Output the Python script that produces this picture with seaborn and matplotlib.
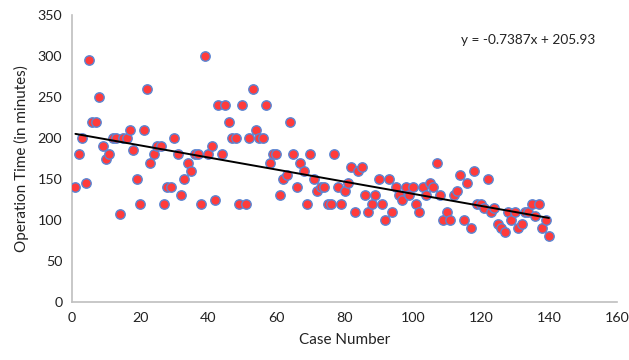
import numpy as np
import pandas as pd
import matplotlib
matplotlib.use("Agg")
import matplotlib.pyplot as plt
import seaborn as sns

case_number = list(range(1, 141))
operation_time = [
    140, 180, 200, 145, 295, 220, 220, 250, 190, 175,
    180, 200, 200, 107, 200, 200, 210, 185, 150, 120,
    210, 260, 170, 180, 190, 190, 120, 140, 140, 200,
    180, 130, 150, 170, 160, 180, 180, 120, 300, 180,
    190, 125, 240, 180, 240, 220, 200, 200, 120, 240,
    120, 200, 260, 210, 200, 200, 240, 170, 180, 180,
    130, 150, 155, 220, 180, 140, 170, 160, 120, 180,
    150, 135, 140, 140, 120, 120, 180, 140, 120, 135,
    145, 165, 110, 160, 165, 130, 110, 120, 130, 150,
    120, 100, 150, 110, 140, 130, 125, 140, 130, 140,
    120, 110, 140, 130, 145, 140, 170, 130, 100, 110,
    100, 130, 135, 155, 100, 145, 90, 160, 120, 120,
    115, 150, 110, 115, 95, 90, 85, 110, 100, 110,
    90, 95, 110, 110, 120, 105, 120, 90, 100, 80,
]
equation_label = "y = -0.7387x + 205.93"
x_ticks = [0, 20, 40, 60, 80, 100, 120, 140, 160]
y_ticks = [0, 50, 100, 150, 200, 250, 300, 350]

df = pd.DataFrame({"Case Number": case_number, "Operation Time": operation_time})

sns.set_theme(style="white")
plt.rcParams["font.family"] = ["Lato", "DejaVu Sans"]

fig = plt.figure(figsize=(6.29, 3.6), dpi=100)
ax = fig.add_axes([0.1145, 0.161, 0.8665, 0.797])

sns.scatterplot(data=df, x="Case Number", y="Operation Time", ax=ax,
                color="#FF3B3B", edgecolor="#5A86D4", linewidth=1.0, s=46,
                zorder=3, legend=False)

slope, intercept = np.polyfit(df["Case Number"], df["Operation Time"], 1)
xs = np.array([df["Case Number"].min(), df["Case Number"].max()])
sns.lineplot(x=xs, y=slope * xs + intercept, ax=ax, color="black", linewidth=1.4, zorder=4)

ax.text(0.713, 0.915, equation_label, transform=ax.transAxes, fontsize=9.8, color="#222222",
        ha="left", va="center")

ax.set_xlim(0, 160)
ax.set_ylim(0, 350)
ax.set_xticks(x_ticks)
ax.set_yticks(y_ticks)
ax.tick_params(axis="both", labelsize=10.3, colors="#222222", length=0, pad=7)
ax.set_xlabel("Case Number", fontsize=11, color="#222222", labelpad=7)
ax.set_ylabel("Operation Time (in minutes)", fontsize=11, color="#222222", labelpad=6)

for side in ["top", "right"]:
    ax.spines[side].set_visible(False)
for side in ["left", "bottom"]:
    ax.spines[side].set_color("#BFBFBF")
    ax.spines[side].set_linewidth(1.2)

fig.savefig("out.png", dpi=100)
